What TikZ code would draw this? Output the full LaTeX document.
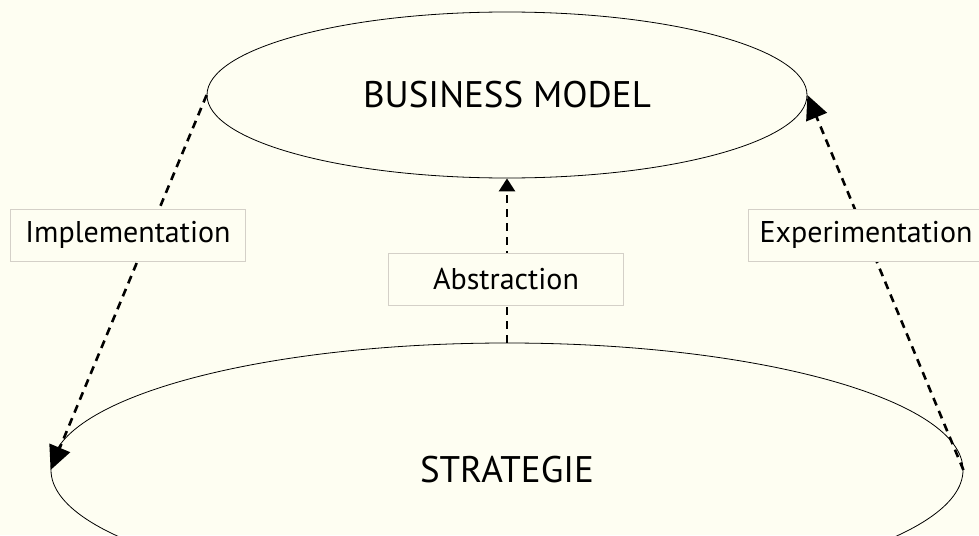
\documentclass[tikz,border=0pt]{standalone}
\usepackage{fontspec}
\setmainfont{PT Sans}
\usetikzlibrary{shapes,arrows.meta}
\definecolor{paper}{HTML}{FEFEF2}
\definecolor{boxline}{HTML}{D4D0C8}

\begin{document}
\begin{tikzpicture}[x=1pt,y=-1pt,
      plan/.style={ellipse,draw,line width=0.8pt,inner sep=0pt,font=\fontsize{37}{40}\selectfont},
      tag/.style={draw=boxline,fill=paper,minimum width=235pt,minimum height=52pt,
        inner sep=0pt,font=\fontsize{30}{32}\selectfont},
      flow/.style={line width=2.6pt,dash pattern=on 8pt off 6pt}]
    \fill[paper] (0,0) rectangle (979,535);
    \useasboundingbox (0,0) rectangle (979,535);
    \node[plan,minimum width=600pt,minimum height=166pt] (bm) at (507,95) {BUSINESS MODEL};
    \node[plan,minimum width=912pt,minimum height=254pt] (st) at (507,470) {STRATEGIE};
    \draw[flow,-{Triangle[length=24pt,width=22pt]}] (bm.west) -- (st.west);
    \draw[flow,-{Triangle[length=24pt,width=22pt]}] (st.east) -- (bm.east);
    \draw[flow,-{Triangle[length=13pt,width=16pt]}] (st.north) -- (bm.south);
    \node[tag] (impl) at (128,235) {Implementation};
    \node[tag] (expe) at (866,235) {Experimentation};
    \node[tag] (abst) at (506,279) {Abstraction};
\end{tikzpicture}
\end{document}
